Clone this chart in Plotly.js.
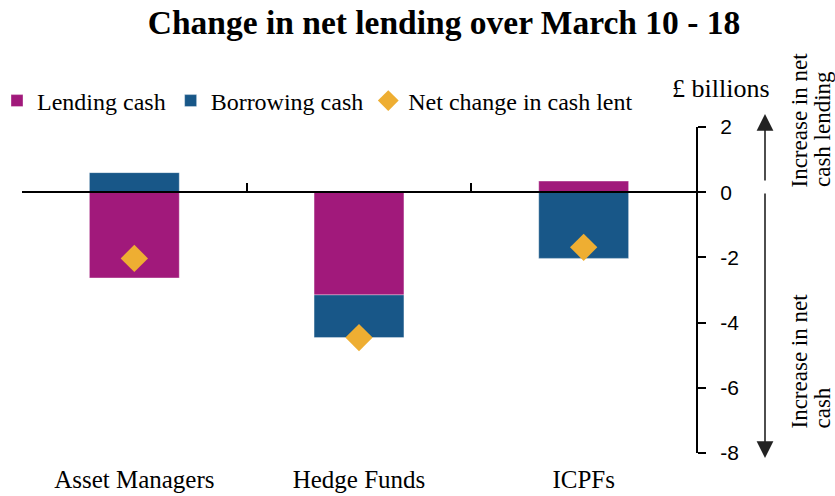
<!DOCTYPE html>
<html>
<head>
<meta charset="utf-8">
<script src="https://cdn.plot.ly/plotly-3.0.1.min.js"></script>
<style>html,body{margin:0;padding:0;background:#fff;}#chart{width:835px;height:496px;}</style>
</head>
<body>
<div id="chart"></div>
<script>
// ---- data ----
const categories = ['Asset Managers', 'Hedge Funds', 'ICPFs'];
const lendingCash = [-2.63, -3.15, 0.34];
const borrowingCash = [0.60, -1.31, -2.03];
const netChange = [-2.03, -4.46, -1.69];
const yTickVals = [2, 0, -2, -4, -6, -8];
const yTickText = ['2', '0', '-2', '-4', '-6', '-8'];
const seriesNames = ['Lending cash', 'Borrowing cash', 'Net change in cash lent'];
const titleText = 'Change in net lending over March 10 - 18';
const unitText = '£ billions';
const upLabel = ['Increase in net', 'cash lending'];
const downLabel = ['Increase in net', 'cash'];

// ---- style ----
const SERIF = 'Liberation Serif, Times New Roman, serif';
const SANS = 'Liberation Sans, Arial, sans-serif';
const MAGENTA = '#A1197B';
const BLUE = '#185788';
const ORANGE = '#EEAE32';

const traces = [
  {type: 'bar', name: seriesNames[0], x: categories, y: lendingCash, width: 0.4,
   marker: {color: MAGENTA, line: {color: 'rgba(255,255,255,0.6)', width: 0.6}}, hoverinfo: 'skip'},
  {type: 'bar', name: seriesNames[1], x: categories, y: borrowingCash, width: 0.4,
   marker: {color: BLUE, line: {color: 'rgba(255,255,255,0.6)', width: 0.6}}, hoverinfo: 'skip'},
  {type: 'scatter', mode: 'markers', name: seriesNames[2], x: categories, y: netChange,
   xaxis: 'x2', yaxis: 'y',
   marker: {symbol: 'diamond', size: 21, color: ORANGE}, hoverinfo: 'skip'}
];

const plotL = 22, plotR = 696, plotT = 127, plotB = 453;
const W = 835, H = 496;
const px2x = p => (p - plotL) / (plotR - plotL);
const py2y = p => (plotB - p) / (plotB - plotT);

const rotFont = {family: SERIF, size: 23, color: '#000'};
const annotations = [
  {text: unitText, xref: 'paper', yref: 'paper', x: px2x(721), y: py2y(88),
   xanchor: 'center', yanchor: 'middle', showarrow: false, font: {family: SERIF, size: 26, color: '#000'}},
  // upper rotated labels
  {text: upLabel[0], xref: 'paper', yref: 'paper', x: px2x(799), y: py2y(189),
   xanchor: 'center', yanchor: 'bottom', textangle: -90, showarrow: false, font: rotFont},
  {text: upLabel[1], xref: 'paper', yref: 'paper', x: px2x(822), y: py2y(189),
   xanchor: 'center', yanchor: 'bottom', textangle: -90, showarrow: false, font: rotFont},
  // lower rotated labels
  {text: downLabel[0], xref: 'paper', yref: 'paper', x: px2x(799), y: py2y(430),
   xanchor: 'center', yanchor: 'bottom', textangle: -90, showarrow: false, font: rotFont},
  {text: downLabel[1], xref: 'paper', yref: 'paper', x: px2x(822), y: py2y(430),
   xanchor: 'center', yanchor: 'bottom', textangle: -90, showarrow: false, font: rotFont},
  // arrows
  {text: '', xref: 'paper', yref: 'paper', x: px2x(765), y: py2y(114), ax: 0, ay: 68,
   showarrow: true, arrowhead: 2, arrowsize: 2.1, arrowwidth: 1.6, arrowcolor: '#222', standoff: 0, startstandoff: 0},
  {text: '', xref: 'paper', yref: 'paper', x: px2x(765), y: py2y(458), ax: 0, ay: -266,
   showarrow: true, arrowhead: 2, arrowsize: 2.1, arrowwidth: 1.6, arrowcolor: '#222', standoff: 0, startstandoff: 0}
];

const layout = {
  width: W, height: H,
  font: {family: SERIF, color: '#000'},
  margin: {l: plotL, r: W - plotR, t: plotT, b: H - plotB, autoexpand: false},
  paper_bgcolor: '#fff', plot_bgcolor: '#fff',
  barmode: 'relative',
  title: {text: titleText, xref: 'container', yref: 'container', x: 444 / W, y: 1 - 22 / H,
          xanchor: 'center', yanchor: 'middle',
          font: {family: SERIF, size: 33.5, color: '#000', weight: 'bold'}},
  showlegend: true,
  legend: {orientation: 'h', x: px2x(-3), xanchor: 'left', y: py2y(101), yanchor: 'middle',
           font: {family: SERIF, size: 24, color: '#000'}, itemwidth: 30, traceorder: 'normal',
           bgcolor: 'rgba(0,0,0,0)', itemclick: false},
  xaxis: {type: 'category', categoryarray: categories, categoryorder: 'array', range: [-0.5, 2.5],
          showline: false, ticks: '', showgrid: false, zeroline: false,
          tickfont: {family: SERIF, size: 25, color: '#000'}, ticklabelstandoff: 9, fixedrange: true},
  xaxis2: {type: 'category', categoryarray: categories, categoryorder: 'array', range: [-0.5, 2.5],
           overlaying: 'x', anchor: 'free', position: (0 - (-8)) / (2 - (-8)),
           showline: true, linecolor: '#000', linewidth: 2, ticks: 'inside', tickson: 'boundaries',
           ticklen: 8, tickwidth: 2, tickcolor: '#000', showticklabels: false, showgrid: false, zeroline: false,
           fixedrange: true},
  yaxis: {range: [-8, 2], side: 'right', showline: true, linecolor: '#000', linewidth: 2,
          ticks: 'outside', ticklen: 8, tickwidth: 2, tickcolor: '#000',
          tickvals: yTickVals, ticktext: yTickText, ticklabelstandoff: 10,
          tickfont: {family: SANS, size: 21, color: '#000'}, showgrid: false, zeroline: false, fixedrange: true},
  annotations: annotations
};

Plotly.newPlot('chart', traces, layout, {displayModeBar: false, staticPlot: true});
</script>
</body>
</html>
